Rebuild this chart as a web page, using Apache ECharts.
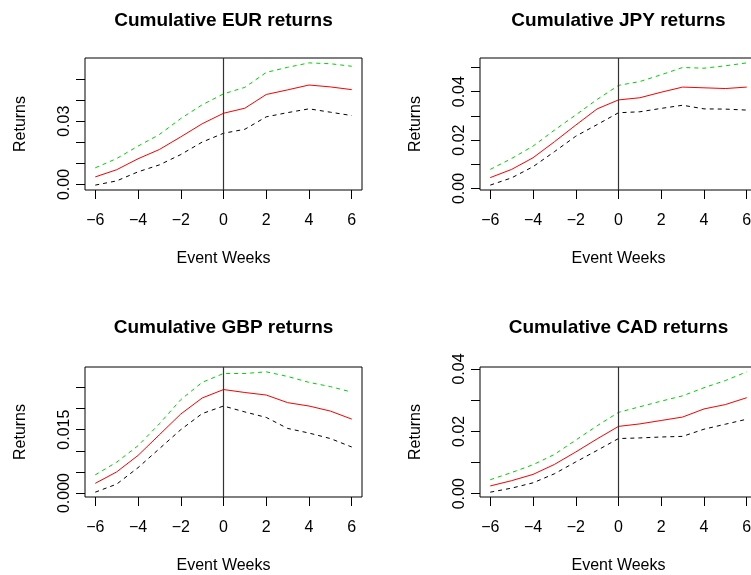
<!DOCTYPE html>
<html>
<head>
<meta charset="utf-8">
<script src="https://cdn.jsdelivr.net/npm/echarts@6/dist/echarts.min.js"></script>
<style>
  html, body { margin: 0; padding: 0; background: #fff; overflow: hidden; }
  /* wider than the window: the right column runs off the page like the original */
  #chart { width: 760px; height: 575px; }
</style>
</head>
<body>
<div id="chart"></div>
<script>
// event weeks
const weeks = [-6, -5, -4, -3, -2, -1, 0, 1, 2, 3, 4, 5, 6];
const xTicks = [-6, -4, -2, 0, 2, 4, 6];

// EUR
const eurMean = [0.0036, 0.0070, 0.0122, 0.0166, 0.0226, 0.0288, 0.0338, 0.0362, 0.0427, 0.0449, 0.0472, 0.0463, 0.0450];
const eurUpper = [0.0079, 0.0123, 0.0182, 0.0237, 0.0313, 0.0378, 0.0430, 0.0461, 0.0532, 0.0556, 0.0577, 0.0573, 0.0561];
const eurLower = [-0.0003, 0.0017, 0.0060, 0.0093, 0.0142, 0.0201, 0.0243, 0.0262, 0.0321, 0.0341, 0.0359, 0.0343, 0.0327];
const eurTicks = [0, 0.01, 0.02, 0.03, 0.04, 0.05];
const eurLabels = [0, 0.03];

// JPY
const jpyMean = [0.0045, 0.0079, 0.0127, 0.0193, 0.0262, 0.0329, 0.0366, 0.0375, 0.0398, 0.0419, 0.0416, 0.0413, 0.0419];
const jpyUpper = [0.0079, 0.0124, 0.0175, 0.0241, 0.0304, 0.0368, 0.0426, 0.0442, 0.0470, 0.0500, 0.0497, 0.0507, 0.0519];
const jpyLower = [0.0014, 0.0044, 0.0090, 0.0152, 0.0216, 0.0264, 0.0313, 0.0317, 0.0331, 0.0344, 0.0329, 0.0328, 0.0324];
const jpyTicks = [0, 0.01, 0.02, 0.03, 0.04, 0.05];
const jpyLabels = [0, 0.02, 0.04];

// GBP
const gbpMean = [0.0023, 0.0050, 0.0089, 0.0138, 0.0187, 0.0225, 0.0245, 0.0238, 0.0232, 0.0214, 0.0206, 0.0194, 0.0175];
const gbpUpper = [0.0043, 0.0073, 0.0112, 0.0164, 0.0221, 0.0262, 0.0283, 0.0283, 0.0287, 0.0276, 0.0262, 0.0252, 0.0239];
const gbpLower = [0.0002, 0.0021, 0.0060, 0.0105, 0.0150, 0.0188, 0.0206, 0.0192, 0.0179, 0.0153, 0.0142, 0.0129, 0.0109];
const gbpTicks = [0, 0.005, 0.010, 0.015, 0.020, 0.025];
const gbpLabels = [0, 0.015];

// CAD
const cadMean = [0.0025, 0.0042, 0.0062, 0.0094, 0.0134, 0.0176, 0.0216, 0.0224, 0.0235, 0.0246, 0.0272, 0.0286, 0.0308];
const cadUpper = [0.0045, 0.0068, 0.0093, 0.0126, 0.0172, 0.0218, 0.0261, 0.0279, 0.0297, 0.0314, 0.0340, 0.0363, 0.0391];
const cadLower = [0.0005, 0.0018, 0.0035, 0.0064, 0.0102, 0.0139, 0.0177, 0.0179, 0.0182, 0.0184, 0.0207, 0.0223, 0.0239];
const cadTicks = [0, 0.01, 0.02, 0.03, 0.04];
const cadLabels = [0, 0.02, 0.04];

const panels = [
  { title: 'Cumulative EUR returns', mean: eurMean, upper: eurUpper, lower: eurLower, ticks: eurTicks, labels: eurLabels, digits: 2 },
  { title: 'Cumulative JPY returns', mean: jpyMean, upper: jpyUpper, lower: jpyLower, ticks: jpyTicks, labels: jpyLabels, digits: 2 },
  { title: 'Cumulative GBP returns', mean: gbpMean, upper: gbpUpper, lower: gbpLower, ticks: gbpTicks, labels: gbpLabels, digits: 3 },
  { title: 'Cumulative CAD returns', mean: cadMean, upper: cadUpper, lower: cadLower, ticks: cadTicks, labels: cadLabels, digits: 2 },
];

// plot regions (like par(mfrow=c(2,2)))
const boxes = [
  { left: 85, top: 58, width: 277, height: 132 },
  { left: 480, top: 58, width: 277, height: 132 },
  { left: 85, top: 367, width: 277, height: 131 },
  { left: 480, top: 367, width: 277, height: 131 },
];
const titleTops = [11, 318];

const FONT = 'Liberation Sans, Arial, Helvetica, sans-serif';

function pairs(ys) {
  return weeks.map((w, i) => [w, ys[i]]);
}

// R style axis range: data range +4% each side
function rangeOf(p) {
  const all = p.mean.concat(p.upper, p.lower);
  const lo = Math.min(...all);
  const hi = Math.max(...all);
  const pad = (hi - lo) * 0.04;
  return [lo - pad, hi + pad];
}

const chart = echarts.init(document.getElementById('chart'));

const grid = [];
const xAxis = [];
const yAxis = [];
const title = [];
const series = [];

panels.forEach((p, i) => {
  const b = boxes[i];
  const yr = rangeOf(p);
  grid.push({
    left: b.left, top: b.top, width: b.width, height: b.height,
    show: true, borderColor: '#000', borderWidth: 1, backgroundColor: 'transparent',
  });
  title.push({
    text: p.title,
    left: b.left + b.width / 2,
    top: titleTops[Math.floor(i / 2)],
    textAlign: 'center',
    padding: 0,
    textStyle: { fontFamily: FONT, fontSize: 19, fontWeight: 'bold', color: '#000' },
  });
  xAxis.push({
    gridIndex: i,
    type: 'value',
    min: -6.48,
    max: 6.48,
    name: 'Event Weeks',
    nameLocation: 'middle',
    nameGap: 61,
    nameTextStyle: { fontFamily: FONT, fontSize: 16, color: '#000' },
    axisLine: { show: false, onZero: false },
    axisTick: { show: true, length: 9, customValues: xTicks, lineStyle: { color: '#000' } },
    axisLabel: {
      customValues: xTicks, margin: 23, fontFamily: FONT, fontSize: 16, color: '#000',
      formatter: (v) => (v < 0 ? '\u2212' + Math.abs(v) : String(v)),
    },
    splitLine: { show: false },
  });
  yAxis.push({
    gridIndex: i,
    type: 'value',
    min: yr[0],
    max: yr[1],
    name: 'Returns',
    nameLocation: 'middle',
    nameGap: 56,
    nameRotate: 90,
    nameTextStyle: { fontFamily: FONT, fontSize: 16, color: '#000' },
    axisLine: { show: false, onZero: false },
    axisTick: { show: true, length: 9, customValues: p.ticks, lineStyle: { color: '#000' } },
    axisLabel: {
      customValues: p.labels, rotate: 90, margin: 12, fontFamily: FONT, fontSize: 16, color: '#000',
      formatter: (v) => v.toFixed(p.digits),
    },
    splitLine: { show: false },
  });
  series.push({
    type: 'line', xAxisIndex: i, yAxisIndex: i, data: pairs(p.upper),
    showSymbol: false, silent: true,
    lineStyle: { color: '#00d000', width: 1, type: [4, 4] },
  });
  series.push({
    type: 'line', xAxisIndex: i, yAxisIndex: i, data: pairs(p.lower),
    showSymbol: false, silent: true,
    lineStyle: { color: '#000', width: 1, type: [4, 4] },
  });
  series.push({
    type: 'line', xAxisIndex: i, yAxisIndex: i, data: pairs(p.mean),
    showSymbol: false, silent: true,
    lineStyle: { color: '#ff0000', width: 1 },
    markLine: {
      silent: true, symbol: 'none', label: { show: false },
      lineStyle: { color: '#333', type: 'solid', width: 1.2 },
      data: [{ xAxis: 0 }],
    },
  });
});

chart.setOption({
  animation: false,
  backgroundColor: '#fff',
  title: title,
  grid: grid,
  xAxis: xAxis,
  yAxis: yAxis,
  series: series,
});
</script>
</body>
</html>
